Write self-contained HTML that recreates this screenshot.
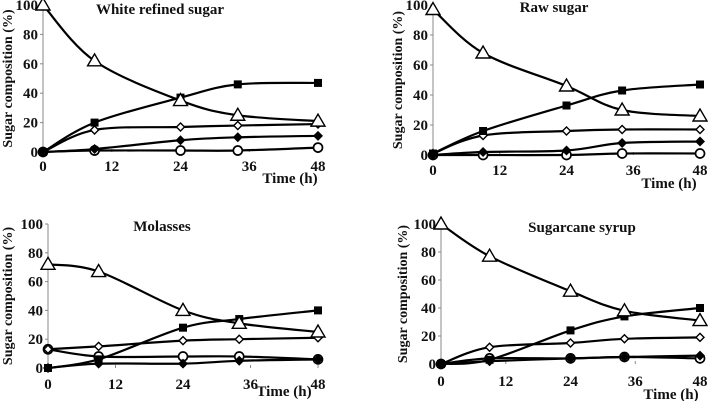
<!DOCTYPE html>
<html><head><meta charset="utf-8"><style>
body{margin:0;background:#fff;width:708px;height:401px;overflow:hidden}
svg{display:block}
text{font-family:"Liberation Serif",serif;font-weight:bold;fill:#111}
</style></head><body>
<svg id="c" width="708" height="401"></svg>
<script>
const times=[0,9,24,34,48];
const xTicks=[0,12,24,36,48];
const yTicks=[0,20,40,60,80,100];
const titles=["White refined sugar","Raw sugar","Molasses","Sugarcane syrup"];
const triVals=[[100,62,35,25,21],[97,68,46,30,26],[72,67,40,31,25],[100,77,52,38,31]];
const sqVals=[[0,20,37,46,47],[1,16,33,43,47],[0,6,28,34,40],[0,3,24,34,40]];
const odiaVals=[[0,15,17,18,19],[1,13,16,17,17],[13,15,19,20,21],[0,12,15,18,19]];
const fdiaVals=[[0,2,8,10,11],[0,2,3,8,9],[0,3,3,5,6],[0,2,4,5,6]];
const circVals=[[0,1,1,1,3],[0,0,0,1,1],[13,8,8,8,6],[0,4,4,5,4]];
const panels=[
 {x0:43,x1:318,yt:5,yb:152,tx:160,ty:14,tick:171,tlx:290,tly:183,ylx:7},
 {x0:433,x1:700,yt:5,yb:155,tx:554,ty:12,tick:175,tlx:669,tly:188,ylx:397},
 {x0:48,x1:318,yt:224,yb:368,tx:162,ty:231,tick:389,tlx:284,tly:396,ylx:7},
 {x0:441,x1:700,yt:224,yb:364,tx:582,ty:232,tick:386,tlx:671,tly:399,ylx:402}
];
const NS="http://www.w3.org/2000/svg";
const svg=document.getElementById('c');
function mk(t,a,p){const e=document.createElementNS(NS,t);for(const k in a)e.setAttribute(k,a[k]);(p||svg).appendChild(e);return e;}
function smooth(pts){let d=`M${pts[0][0]},${pts[0][1]}`;for(let i=0;i<pts.length-1;i++){const p0=pts[Math.max(i-1,0)],p1=pts[i],p2=pts[i+1],p3=pts[Math.min(i+2,pts.length-1)];const c1=[p1[0]+(p2[0]-p0[0])/6,p1[1]+(p2[1]-p0[1])/6],c2=[p2[0]-(p3[0]-p1[0])/6,p2[1]-(p3[1]-p1[1])/6];d+=` C${c1[0]},${c1[1]} ${c2[0]},${c2[1]} ${p2[0]},${p2[1]}`;}return d;}
function marker(g,type,x,y){
 if(type==='tri')mk('polygon',{points:`${x},${y-7} ${x-7},${y+5} ${x+7},${y+5}`,fill:'#fff',stroke:'#000','stroke-width':1.4},g);
 else if(type==='sq')mk('rect',{x:x-4,y:y-4,width:8,height:8,fill:'#000'},g);
 else if(type==='odia')mk('polygon',{points:`${x},${y-4} ${x+4},${y} ${x},${y+4} ${x-4},${y}`,fill:'#fff',stroke:'#000','stroke-width':1.4},g);
 else if(type==='fdia')mk('polygon',{points:`${x},${y-5} ${x+5},${y} ${x},${y+5} ${x-5},${y}`,fill:'#000'},g);
 else mk('circle',{cx:x,cy:y,r:4.5,fill:'#fff',stroke:'#000','stroke-width':1.7},g);
}
panels.forEach((P,i)=>{
 const g=mk('g',{});
 
 
 const sx=v=>P.x0+(P.x1-P.x0)*v/48, sy=v=>P.yb-(P.yb-P.yt)*v/100;
 mk('line',{x1:P.x0,y1:P.yt,x2:P.x0,y2:P.yb,stroke:'#888','stroke-width':1},g);
 yTicks.forEach(v=>{mk('line',{x1:P.x0-3,y1:sy(v),x2:P.x0,y2:sy(v),stroke:'#888'},g);
  const t=mk('text',{x:P.x0-5,y:sy(v)+5,'text-anchor':'end','font-size':15},g);t.textContent=v;
  });
 xTicks.forEach(v=>{mk('line',{x1:sx(v),y1:P.yb,x2:sx(v),y2:P.yb-3,stroke:'#888'},g);
  const t=mk('text',{x:sx(v),y:P.tick,'text-anchor':'middle','font-size':15},g);t.textContent=v;
  });
 const tt=mk('text',{x:P.tx,y:P.ty,'text-anchor':'middle','font-size':15},g);tt.textContent=titles[i];
 
 const xl=mk('text',{x:P.tlx,y:P.tly,'text-anchor':'middle','font-size':15},g);xl.textContent='Time (h)';
 
 const cy=(P.yt+P.yb)/2;
 const yl=mk('text',{x:P.ylx,y:cy,'text-anchor':'middle','font-size':14,transform:`rotate(-90 ${P.ylx} ${cy}) translate(0 5)`},g);yl.textContent='Sugar composition (%)';
 
 [['circ',circVals],['fdia',fdiaVals],['odia',odiaVals],['sq',sqVals],['tri',triVals]].forEach(([type,arr])=>{
  const pts=times.map((t,j)=>[sx(t),sy(arr[i][j])]);
  const s=mk('g',{},g);
  
  
  mk('path',{d:smooth(pts),fill:'none',stroke:'#000','stroke-width':2.2},s);
  pts.forEach(p=>marker(s,type,p[0],p[1]));
 });
});
</script>
</body></html>
